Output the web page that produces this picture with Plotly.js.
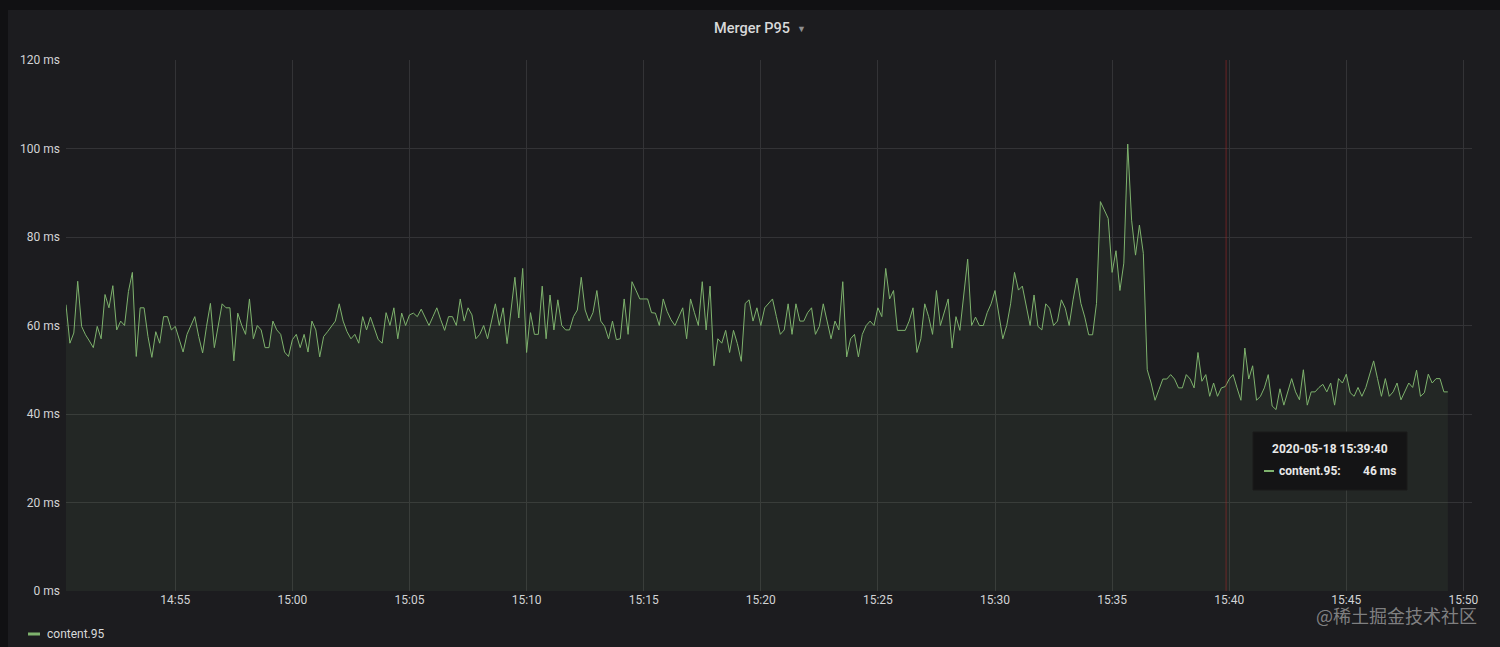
<!DOCTYPE html>
<html>
<head>
<meta charset="utf-8">
<script src="https://cdn.plot.ly/plotly-3.0.1.min.js"></script>
<style>
html,body{margin:0;padding:0;background:#111113;}
#chart{width:1500px;height:647px;}
</style>
</head>
<body>
<div id="chart"></div>
<script>
// ---- data (P95 latency in ms, one sample every 10 s) ----
const seriesName = "content.95";
const startTime = "2020-05-18 14:50:20";
const stepSeconds = 10;

const values1 = [64.7,56,58.3,70,59.8,57.9,56.5,55,59.8,57,67,
  64,69,59,61,60,67.7,72,53,64,64,
  57.5,52.8,58.6,56,62,62,59,59.8,57,54,
  58,60,62,57.5,53.8,59.8,65,55,59.8,64.9,64,
  64,52,62.8,60.1,58,66,57,60,59,55,
  55,61,59,58,54,53,56.8,58,55,58,
  54];
const values2 = [61,59,52.9,57.5,58.6,59.8,61,64.9,61,58.6,
  57,58,56,62,59,61.9,59.4,56.8,56,62.9,
  60,64,57,62.8,60,62.4,62.8,62,63.7,61.7,
  60,62,64,61.3,58.9,62,62,60,66,61,
  64,62.4,57,58,60,57,61,64.9,60,64,
  55.9,63.5,70.9,61.7,72.9,53.9,62.9,58,58,68.9,
  57,66.9];
const values3 = [59,65.8,60,59,59,62,63.5,70.9,63.5,61,
  62.9,67.9,61,59.8,57,61,56.8,57,66,58,
  69.9,68,66,66,66,62.9,62.8,60,66,63.2,
  61.3,60,62,64,57,66,62.9,60,69.9,59,
  68.9,50.9,57,56,58.9,53.9,58.9,55.9,51.9,65,
  65.8,61,64,60,64,65,66,62,58,59,
  64.9];
const values4 = [58,64.9,61,61,62.9,64,58,59.8,64.9,61,
  57,61,59,69.9,52.9,57,58,52.9,58,60,
  61,60,64,62,72.9,66,67.9,58.9,58.9,58.9,
  61,64,53.9,57,64.9,62,58,67.9,60,62.9,
  66,54.9,62,58.9,66.9,75,60,61.9,60,60,
  62.9,64.9,67.9,62.9,57,60,64.9,72,68,68.9,
  64,60];
const values5 = [66.9,59.8,59,64.9,63.9,60,61,65.8,63.9,60,
  65.8,70.7,65,61.9,57.9,57.9,65,88,86.1,84.2,
  72,76.9,67.9,74.1,101,83.8,75.9,82.7,76.3,50,
  47,43.1,45.5,47.9,47.9,48.9,47.9,45.9,45.9,48.9,
  47.9,45.9,53.9,47.4,48.9,44,47,44,45.9,46.2,
  47.9,48.9,45.9,43.1,54.9,47.9,50.9,43.1,44,45.9,
  48.9];
const values6 = [41.8,41,45.7,42,44.8,48,45,43.2,50,42,
  45,45,46,46.7,45,47,42,48,47,49,
  44.8,44,46,44,46,49,52,48,44,48,
  44,45,47,43.2,45,47,46,49.9,44,44.8,
  49,47,48,48,45,45];

const yTickValues = [0,20,40,60,80,100,120];
const yTickLabels = ["0 ms","20 ms","40 ms","60 ms","80 ms","100 ms","120 ms"];
const xRange = ["2020-05-18 14:50:20", "2020-05-18 15:50:22"];

// tooltip shown in the reference
const hoverTime = "2020-05-18 15:39:40";
const hoverValue = 46;
const cursorTime = "2020-05-18 15:39:52";

// ---- build series ----
const values = [].concat(values1, values2, values3, values4, values5, values6);
function pad(n){return (n<10?"0":"")+n;}
const t0 = new Date(startTime.replace(" ","T")+"Z").getTime();
const times = values.map((_, i) => {
  const d = new Date(t0 + i*stepSeconds*1000);
  return d.getUTCFullYear()+"-"+pad(d.getUTCMonth()+1)+"-"+pad(d.getUTCDate())+" "+
         pad(d.getUTCHours())+":"+pad(d.getUTCMinutes())+":"+pad(d.getUTCSeconds());
});

const green = "#7eb26d";
const textCol = "#d2d3d5";

const trace = {
  type: "scatter", mode: "lines", name: seriesName,
  x: times, y: values,
  line: {color: green, width: 1},
  fill: "tozeroy", fillcolor: "rgba(126,178,109,0.08)",
  hoverinfo: "skip", showlegend: false
};

// helper: pixel -> paper coordinates (plot area x 66..1472, y 60..591)
const L = 66, R = 1472, T = 60, B = 591;
const px = v => (v - L) / (R - L);
const py = v => (B - v) / (B - T);

const layout = {
  width: 1500, height: 647,
  paper_bgcolor: "#111113",
  plot_bgcolor: "rgba(0,0,0,0)",
  margin: {l: L, r: 1500 - R, t: T, b: 647 - B, pad: 0},
  font: {family: "Roboto, 'Noto Sans', sans-serif", color: textCol, size: 12},
  title: {
    text: "Merger P95", x: 752/1500, xanchor: "center", xref: "container",
    y: 1 - 28/647, yanchor: "middle", yref: "container",
    font: {size: 14.5, color: "#d8d9da", weight: 500, family: "Roboto, sans-serif"}
  },
  xaxis: {
    type: "date", range: xRange,
    tickformat: "%H:%M", dtick: 300000, tick0: "2020-05-18 14:55:00",
    showgrid: true, gridcolor: "#333336", gridwidth: 1,
    zeroline: false, showline: false, ticks: "",
    tickfont: {size: 12, color: textCol}, fixedrange: true
  },
  yaxis: {
    range: [0, 120], tickmode: "array", tickvals: yTickValues, ticktext: yTickLabels,
    showgrid: true, gridcolor: "#333336", gridwidth: 1,
    zeroline: false, showline: false, ticks: "",
    ticklabelstandoff: 5,
    tickfont: {size: 12, color: textCol}, fixedrange: true
  },
  shapes: [
    // panel background
    {type: "rect", xref: "paper", yref: "paper", layer: "below",
     x0: px(8), x1: px(1500), y0: py(647), y1: py(10),
     fillcolor: "#1c1c1f", line: {width: 0}},
    // hover cursor line
    {type: "line", xref: "x", yref: "paper", x0: cursorTime, x1: cursorTime, y0: 0, y1: 1,
     line: {color: "rgba(170,40,40,0.55)", width: 1}},
    // tooltip box
    {type: "rect", xref: "paper", yref: "paper", layer: "above",
     x0: px(1253), x1: px(1407), y0: py(490), y1: py(432),
     fillcolor: "#141415", line: {color: "#1a1a1b", width: 1}},
    // tooltip legend dash
    {type: "line", xref: "paper", yref: "paper", layer: "above",
     x0: px(1264), x1: px(1274), y0: py(471), y1: py(471),
     line: {color: green, width: 2}},
    // legend dash
    {type: "line", xref: "paper", yref: "paper",
     x0: px(28), x1: px(40), y0: py(634), y1: py(634),
     line: {color: green, width: 3}}
  ],
  annotations: [
    {xref: "paper", yref: "paper", x: px(801), y: py(29), text: "▼",
     showarrow: false, font: {size: 9, color: "#8e8e90"}, xanchor: "center", yanchor: "middle"},
    {xref: "paper", yref: "paper", x: px(1330), y: py(449), text: "<b>" + hoverTime + "</b>",
     showarrow: false, font: {size: 12, color: "#e8e8e8"}, xanchor: "center", yanchor: "middle"},
    {xref: "paper", yref: "paper", x: px(1277), y: py(471), text: "<b>" + seriesName + ":</b>",
     showarrow: false, font: {size: 12, color: "#e8e8e8"}, xanchor: "left", yanchor: "middle"},
    {xref: "paper", yref: "paper", x: px(1398), y: py(471), text: "<b>" + hoverValue + " ms</b>",
     showarrow: false, font: {size: 12, color: "#e8e8e8"}, xanchor: "right", yanchor: "middle"},
    {xref: "paper", yref: "paper", x: px(45), y: py(634), text: seriesName,
     showarrow: false, font: {size: 12, color: "#d8d9da"}, xanchor: "left", yanchor: "middle"},
    {xref: "paper", yref: "paper", x: px(1479), y: py(615), text: "@稀土掘金技术社区",
     showarrow: false, font: {size: 18, color: "rgba(215,215,215,0.55)", family: "'Noto Sans CJK SC', sans-serif"},
     xanchor: "right", yanchor: "middle"}
  ]
};

Plotly.newPlot("chart", [trace], layout, {displayModeBar: false, staticPlot: true});
</script>
</body>
</html>
